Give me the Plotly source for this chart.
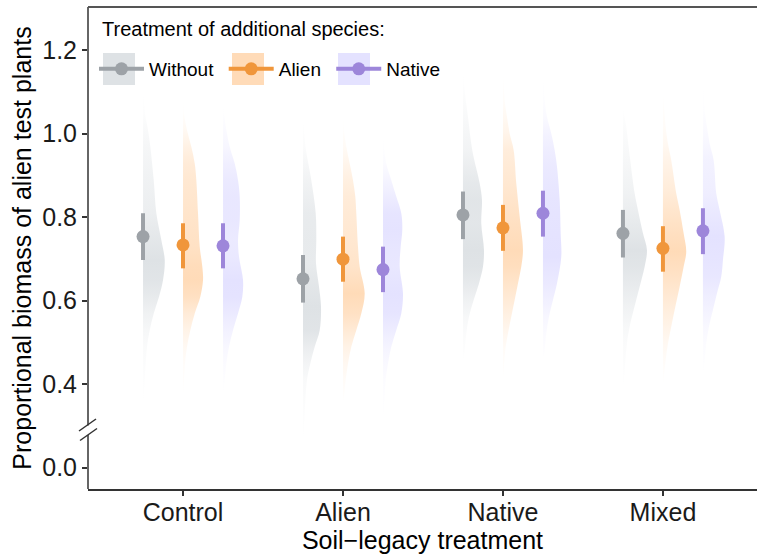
import plotly.graph_objects as go

# ---------------- data ----------------
categories = ["Control", "Alien", "Native", "Mixed"]
species = ["Without", "Alien", "Native"]

mean_without = [0.753, 0.652, 0.805, 0.761]
lo_without = [0.697, 0.595, 0.747, 0.703]
hi_without = [0.809, 0.709, 0.861, 0.817]

mean_alien = [0.733, 0.699, 0.774, 0.725]
lo_alien = [0.677, 0.645, 0.719, 0.669]
hi_alien = [0.785, 0.753, 0.829, 0.778]

mean_native = [0.731, 0.674, 0.809, 0.767]
lo_native = [0.677, 0.620, 0.753, 0.711]
hi_native = [0.785, 0.729, 0.863, 0.821]

# y-axis tick values (display scale; the 0.0 label sits below the axis break)
tick_vals = [0.2, 0.4, 0.6, 0.8, 1.0, 1.2]
tick_text = ["0.0", "0.4", "0.6", "0.8", "1.0", "1.2"]

# density profiles of the posterior distributions (y value, relative density)
vy_control_without = [0.338, 0.410, 0.489, 0.529, 0.569, 0.609, 0.649, 0.697, 0.745, 0.809, 0.888, 0.968, 1.008, 1.048, 1.112]
vd_control_without = [0, 1.7, 4, 6.7, 10.7, 16, 20, 21.7, 18.3, 13.3, 10.7, 7.3, 5, 2, 0]
vy_control_alien = [0.354, 0.370, 0.449, 0.489, 0.529, 0.569, 0.609, 0.649, 0.681, 0.729, 0.809, 0.888, 0.928, 0.968, 1.008, 1.048, 1.104]
vd_control_alien = [0, 0.3, 2, 4, 7.3, 11.7, 17.3, 20, 19.3, 16.7, 15, 13.3, 11.7, 8.3, 4, 1, 0]
vy_control_native = [0.370, 0.410, 0.449, 0.489, 0.529, 0.569, 0.609, 0.649, 0.705, 0.745, 0.793, 0.849, 0.888, 0.928, 0.968, 1.048, 1.096]
vd_control_native = [0, 1.7, 3.3, 6, 10, 15, 19.3, 20, 16, 15, 16.7, 16.7, 15, 11.7, 6.7, 1, 0]

vy_alien_without = [0.250, 0.330, 0.410, 0.449, 0.489, 0.529, 0.585, 0.633, 0.689, 0.745, 0.809, 0.888, 0.968, 1.040]
vd_alien_without = [0, 1.7, 4, 7.3, 11.7, 16.7, 18, 16, 13, 13.3, 12.7, 8.3, 2.5, 0]
vy_alien_alien = [0.354, 0.370, 0.410, 0.449, 0.489, 0.529, 0.569, 0.617, 0.681, 0.729, 0.809, 0.849, 0.888, 0.928, 0.968, 1.008, 1.056]
vd_alien_alien = [0, 1, 2.7, 5, 8.3, 13.3, 18.3, 21.7, 16.7, 15, 13.3, 12.3, 10, 6.7, 3.3, 1, 0]
vy_alien_native = [0.314, 0.330, 0.410, 0.449, 0.489, 0.529, 0.569, 0.617, 0.681, 0.729, 0.769, 0.809, 0.849, 0.888, 0.928, 0.968, 1.024]
vd_alien_native = [0, 0.7, 2.7, 5, 8.3, 13.3, 18.3, 20, 16.7, 17.7, 19.3, 18.3, 13.3, 8.3, 3.3, 1, 0]

vy_native_without = [0.450, 0.481, 0.521, 0.561, 0.601, 0.641, 0.681, 0.721, 0.785, 0.841, 0.881, 0.960, 1.040, 1.120, 1.184]
vd_native_without = [0, 1.7, 3.3, 6, 10.7, 16, 20, 21, 18.3, 19, 16.7, 9.3, 5, 1, 0]
vy_native_alien = [0.402, 0.481, 0.521, 0.561, 0.601, 0.641, 0.681, 0.721, 0.801, 0.881, 0.960, 1.000, 1.040, 1.080, 1.160]
vd_native_alien = [0, 2.3, 5, 8.3, 11.7, 15, 18.3, 20, 16.7, 13.3, 10.7, 6.7, 4, 1.7, 0]
vy_native_native = [0.457, 0.481, 0.521, 0.561, 0.601, 0.641, 0.705, 0.761, 0.841, 0.921, 0.960, 1.000, 1.040, 1.080, 1.152]
vd_native_native = [0, 1.7, 3.3, 6, 10, 14, 18.3, 17.7, 16.7, 14, 11.7, 8.3, 4, 1.7, 0]

vy_mixed_without = [0.378, 0.418, 0.497, 0.537, 0.577, 0.633, 0.681, 0.721, 0.761, 0.817, 0.857, 0.936, 1.016, 1.056, 1.136]
vd_mixed_without = [0, 1.3, 4, 6.7, 10.7, 16.7, 21.7, 24, 20, 15, 11.7, 7.3, 3.3, 0.7, 0]
vy_mixed_alien = [0.386, 0.418, 0.457, 0.497, 0.537, 0.577, 0.633, 0.681, 0.717, 0.761, 0.817, 0.857, 0.936, 0.976, 1.016, 1.104]
vd_mixed_alien = [0, 1, 2.7, 5, 8.3, 11.7, 16.7, 20.7, 23.3, 20.7, 16.7, 13.3, 8.3, 5, 2.7, 0]
vy_mixed_native = [0.417, 0.457, 0.497, 0.537, 0.577, 0.617, 0.657, 0.697, 0.753, 0.817, 0.857, 0.936, 0.976, 1.016, 1.056, 1.144]
vd_mixed_native = [0, 1.7, 3.3, 6, 10, 14, 18.3, 20, 21.7, 16.7, 13.3, 10.7, 6.7, 4, 1.7, 0]

# ---------------- styles ----------------
point_colors = {"Without": "#9DA2A7", "Alien": "#F0963B", "Native": "#9D86DA"}
fill_rgb = {"Without": (222, 226, 229), "Alien": (255, 219, 184), "Native": (228, 226, 255)}
dodge = {"Without": -0.25, "Alien": 0.0, "Native": 0.25}
VSCALE = 1.0 / 160.0  # density units -> category units
FONT = "Liberation Sans, Arial, sans-serif"

violins = {
    ("Control", "Without"): (vy_control_without, vd_control_without),
    ("Control", "Alien"): (vy_control_alien, vd_control_alien),
    ("Control", "Native"): (vy_control_native, vd_control_native),
    ("Alien", "Without"): (vy_alien_without, vd_alien_without),
    ("Alien", "Alien"): (vy_alien_alien, vd_alien_alien),
    ("Alien", "Native"): (vy_alien_native, vd_alien_native),
    ("Native", "Without"): (vy_native_without, vd_native_without),
    ("Native", "Alien"): (vy_native_alien, vd_native_alien),
    ("Native", "Native"): (vy_native_native, vd_native_native),
    ("Mixed", "Without"): (vy_mixed_without, vd_mixed_without),
    ("Mixed", "Alien"): (vy_mixed_alien, vd_mixed_alien),
    ("Mixed", "Native"): (vy_mixed_native, vd_mixed_native),
}

fig = go.Figure()

# half violins with density-driven transparency
for ci, cat in enumerate(categories):
    for sp in species:
        ys, ds = violins[(cat, sp)]
        xc = ci + dodge[sp]
        xs = [xc + d * VSCALE for d in ds]
        ymin, ymax = ys[0], ys[-1]
        dmax = max(ds)
        r, g, b = fill_rgb[sp]
        cs = []
        for y, d in zip(ys, ds):
            a = (d / dmax) ** 1.1
            cs.append([(y - ymin) / (ymax - ymin), f"rgba({r},{g},{b},{a:.3f})"])
        fig.add_trace(go.Scatter(
            x=xs, y=ys, mode="lines", fill="toself",
            line=dict(width=0, shape="spline", smoothing=1.0),
            fillgradient=dict(type="vertical", colorscale=cs, start=ymin, stop=ymax),
            showlegend=False, hoverinfo="skip",
        ))

series = {
    "Without": (mean_without, lo_without, hi_without),
    "Alien": (mean_alien, lo_alien, hi_alien),
    "Native": (mean_native, lo_native, hi_native),
}
for sp in species:
    m, lo, hi = series[sp]
    xs = [i + dodge[sp] for i in range(len(categories))]
    fig.add_trace(go.Scatter(
        x=xs, y=m, mode="markers",
        marker=dict(size=13, color=point_colors[sp]),
        error_y=dict(type="data", symmetric=False,
                     array=[h - v for h, v in zip(hi, m)],
                     arrayminus=[v - l for v, l in zip(m, lo)],
                     thickness=4, width=0, color=point_colors[sp]),
        showlegend=False, name=sp,
    ))

# legend entries (line + point glyph)
for sp in species:
    fig.add_trace(go.Scatter(
        x=[None], y=[None], mode="lines+markers", name=sp + "\u00a0",
        line=dict(color=point_colors[sp], width=4),
        marker=dict(size=13, color=point_colors[sp]),
    ))

# ---------------- layout ----------------
L, R, T, B = 88, 1, 7, 65
W, H = 758, 554
pw, ph = W - L - R, H - T - B


def px(x):
    return (x - L) / pw


def py(y):
    return (H - B - y) / ph


shapes = []
# legend key backgrounds
for x0, sp in [(103, "Without"), (232, "Alien"), (338, "Native")]:
    r, g, b = fill_rgb[sp]
    shapes.append(dict(type="rect", xref="paper", yref="paper",
                       x0=px(x0), x1=px(x0 + 32), y0=py(85), y1=py(53),
                       fillcolor=f"rgb({r},{g},{b})", line=dict(width=0), layer="below"))
axc = "#333333"
# y axis with break
shapes.append(dict(type="line", xref="paper", yref="paper", x0=0, x1=0, y0=py(425.5), y1=1,
                   line=dict(color=axc, width=1.5)))
shapes.append(dict(type="line", xref="paper", yref="paper", x0=0, x1=0, y0=0, y1=py(435),
                   line=dict(color=axc, width=1.5)))
shapes.append(dict(type="line", xref="paper", yref="paper", x0=px(79), x1=px(96), y0=py(431), y1=py(419),
                   line=dict(color=axc, width=1.5)))
shapes.append(dict(type="line", xref="paper", yref="paper", x0=px(80), x1=px(97), y0=py(440.5), y1=py(428.5),
                   line=dict(color=axc, width=1.5)))
# top border
shapes.append(dict(type="line", xref="paper", yref="paper", x0=0, x1=1, y0=1, y1=1,
                   line=dict(color="#555555", width=2)))

annotations = [dict(text="Treatment of additional species:", xref="paper", yref="paper",
                    x=px(100), y=py(29), xanchor="left", yanchor="middle", showarrow=False,
                    font=dict(size=20, family=FONT, color="#000000"))]

fig.update_layout(
    width=W, height=H,
    margin=dict(l=L, r=R, t=T, b=B, autoexpand=False),
    plot_bgcolor="white", paper_bgcolor="white",
    font=dict(family=FONT, color="#000000"),
    shapes=shapes, annotations=annotations,
    legend=dict(
        orientation="h", x=px(94), y=py(50), xanchor="left", yanchor="top",
        xref="paper", yref="paper",
        font=dict(size=19, family=FONT), itemwidth=45,
        bgcolor="rgba(0,0,0,0)", borderwidth=0, tracegroupgap=0,
    ),
    xaxis=dict(
        range=[-0.594, 3.588], tickvals=list(range(len(categories))), ticktext=categories,
        ticks="outside", ticklen=5, tickwidth=1.5, tickcolor=axc, ticklabelstandoff=-5,
        showline=True, linecolor=axc, linewidth=1.5, mirror=False,
        showgrid=False, zeroline=False,
        tickfont=dict(size=25, family=FONT, color="#1a1a1a"),
        title=dict(text="Soil\u2212legacy treatment", font=dict(size=25, family=FONT), standoff=9),
        automargin=False,
    ),
    yaxis=dict(
        range=[0.1485, 1.303], tickvals=tick_vals, ticktext=tick_text,
        ticks="outside", ticklen=5, tickwidth=1.5, tickcolor=axc,
        showline=False, showgrid=False, zeroline=False,
        tickfont=dict(size=25, family=FONT, color="#1a1a1a"),
        title=dict(text="Proportional biomass of alien test plants", font=dict(size=25, family=FONT), standoff=3),
        automargin=False,
    ),
)

fig.write_html("out.html", config={"displayModeBar": False},
               post_script="document.body.style.margin='0';document.body.style.overflow='hidden';")
